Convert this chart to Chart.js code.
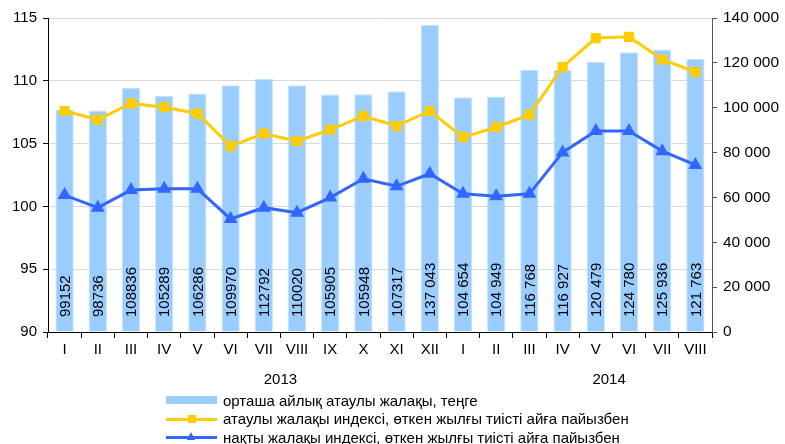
<!DOCTYPE html>
<html>
<head>
<meta charset="utf-8">
<script src="https://cdn.jsdelivr.net/npm/chart.js@4.4.1/dist/chart.umd.min.js"></script>
<style>
    html, body { margin: 0; padding: 0; background: #fff; }
    #wrap { position: relative; width: 785px; height: 444px; }
    #legend { position: absolute; left: 166px; top: 391px; font: 15px 'Liberation Sans', Arial, sans-serif; color: #000; }
    .row { height: 18.5px; display: flex; align-items: center; }
    .sw { position: relative; width: 51px; height: 12px; margin-right: 6px; }
    .bar { position: absolute; left: 0; right: 0; top: 2px; height: 8px; background: #99ccff; }
    .ln { position: absolute; left: 0; right: 0; top: 5px; height: 3px; }
    .sq { position: absolute; left: 22px; top: 2px; width: 8px; height: 8px; background: #ffcc00; }
    .tri { position: absolute; left: 21px; top: 1px; width: 0; height: 0; border-left: 4px solid transparent; border-right: 4px solid transparent; border-bottom: 8px solid #3366ff; }
</style>
</head>
<body>
<div id="wrap">
    <canvas id="chart" width="785" height="444"></canvas>
    <div id="legend">
        <div class="row"><div class="sw"><div class="bar"></div></div>орташа айлық атаулы жалақы, теңге</div>
        <div class="row"><div class="sw"><div class="ln" style="background:#ffcc00"></div><div class="sq"></div></div>атаулы жалақы индексі, өткен жылғы тиісті айға пайызбен</div>
        <div class="row"><div class="sw"><div class="ln" style="background:#3366ff"></div><div class="tri"></div></div>нақты жалақы индексі, өткен жылғы тиісті айға пайызбен</div>
    </div>
</div>
<script>
    const months = ['I', 'II', 'III', 'IV', 'V', 'VI', 'VII', 'VIII', 'IX', 'X', 'XI', 'XII',
                    'I', 'II', 'III', 'IV', 'V', 'VI', 'VII', 'VIII']
    const wages = [99152, 98736, 108836, 105289, 106286, 109970, 112792, 110020, 105905, 105948, 107317, 137043,
                   104654, 104949, 116768, 116927, 120479, 124780, 125936, 121763]
    const wageLabels = ['99152', '98736', '108836', '105289', '106286', '109970', '112792', '110020', '105905', '105948', '107317', '137 043',
                        '104 654', '104 949', '116 768', '116 927', '120 479', '124 780', '125 936', '121 763']
    const nominalIndex = [107.6, 106.9, 108.2, 107.9, 107.4, 104.8, 105.8, 105.2, 106.1, 107.2, 106.4, 107.6,
                          105.5, 106.3, 107.3, 111.1, 113.4, 113.5, 111.7, 110.7]
    const realIndex = [100.9, 99.9, 101.3, 101.4, 101.4, 99.0, 99.9, 99.5, 100.7, 102.2, 101.6, 102.6,
                       101.0, 100.8, 101.0, 104.3, 106.0, 106.0, 104.4, 103.3]
    const years = ['2013', '2014']
    const yearPos = [6.5, 16.4]

    const FONT = "'Liberation Sans', Arial, sans-serif"
    Chart.defaults.font.family = FONT
    Chart.defaults.color = '#000'

    // vertical value labels inside the bars, drawn before the lines
    const barText = {
        id: 'barText',
        afterDatasetDraw(chart, args) {
            if (args.index !== 0) return
            const ctx = chart.ctx
            const bottom = chart.chartArea.bottom
            ctx.save()
            ctx.font = '15px ' + FONT
            ctx.fillStyle = '#000'
            ctx.textAlign = 'left'
            ctx.textBaseline = 'middle'
            args.meta.data.forEach((bar, i) => {
                ctx.save()
                ctx.translate(bar.x + 1, bottom - 15)
                ctx.rotate(-Math.PI / 2)
                ctx.fillText(wageLabels[i], 0, 0)
                ctx.restore()
            })
            ctx.restore()
        }
    }

    const yearText = {
        id: 'yearText',
        afterDraw(chart) {
            const ctx = chart.ctx
            const x = chart.scales.x
            ctx.save()
            ctx.font = '15px ' + FONT
            ctx.fillStyle = '#000'
            ctx.textAlign = 'center'
            ctx.textBaseline = 'middle'
            years.forEach((y, i) => ctx.fillText(y, x.getPixelForValue(yearPos[i]), 380))
            ctx.restore()
        }
    }

    const fmt = v => String(v).replace(/\B(?=(\d{3})+(?!\d))/g, ' ')

    new Chart(document.getElementById('chart'), {
        type: 'bar',
        data: {
            labels: months,
            datasets: [
                {
                    type: 'bar', label: 'орташа айлық атаулы жалақы, теңге', data: wages, yAxisID: 'y1',
                    backgroundColor: '#99ccff', borderColor: '#c6e2ff', borderWidth: 1,
                    barPercentage: 0.55, categoryPercentage: 1, order: 2
                },
                {
                    type: 'line', label: 'атаулы жалақы индексі, өткен жылғы тиісті айға пайызбен', data: nominalIndex, yAxisID: 'y',
                    borderColor: '#ffcc00', backgroundColor: '#ffcc00', borderWidth: 3,
                    pointStyle: 'rect', pointRadius: 5, tension: 0, order: 1
                },
                {
                    type: 'line', label: 'нақты жалақы индексі, өткен жылғы тиісті айға пайызбен', data: realIndex, yAxisID: 'y',
                    borderColor: '#3366ff', backgroundColor: '#3366ff', borderWidth: 3,
                    pointStyle: 'triangle', pointRadius: 5, tension: 0, order: 0
                }
            ]
        },
        options: {
            responsive: false,
            animation: false,
            layout: { padding: { top: 18, left: 0, right: 0, bottom: 0 } },
            plugins: { legend: { display: false }, tooltip: { enabled: false } },
            scales: {
                x: {
                    afterFit: s => { s.height = 112 },
                    grid: { offset: true, drawOnChartArea: false, tickLength: 6, tickColor: '#000' },
                    border: { color: '#000' },
                    ticks: { font: { size: 15 }, maxRotation: 0, autoSkip: false, padding: 3 }
                },
                y: {
                    position: 'left', min: 90, max: 115,
                    afterFit: s => { s.width = 48 },
                    grid: { color: '#d9d9d9', tickColor: '#000', tickLength: 5 },
                    border: { color: '#000' },
                    ticks: { stepSize: 5, font: { size: 15 }, padding: 6 }
                },
                y1: {
                    position: 'right', min: 0, max: 140000,
                    afterFit: s => { s.width = 73 },
                    grid: { drawOnChartArea: false, tickColor: '#555', tickLength: 5 },
                    border: { color: '#555' },
                    ticks: { stepSize: 20000, font: { size: 15.5 }, padding: 6, callback: v => fmt(v) }
                }
            }
        },
        plugins: [barText, yearText]
    })
</script>
</body>
</html>
